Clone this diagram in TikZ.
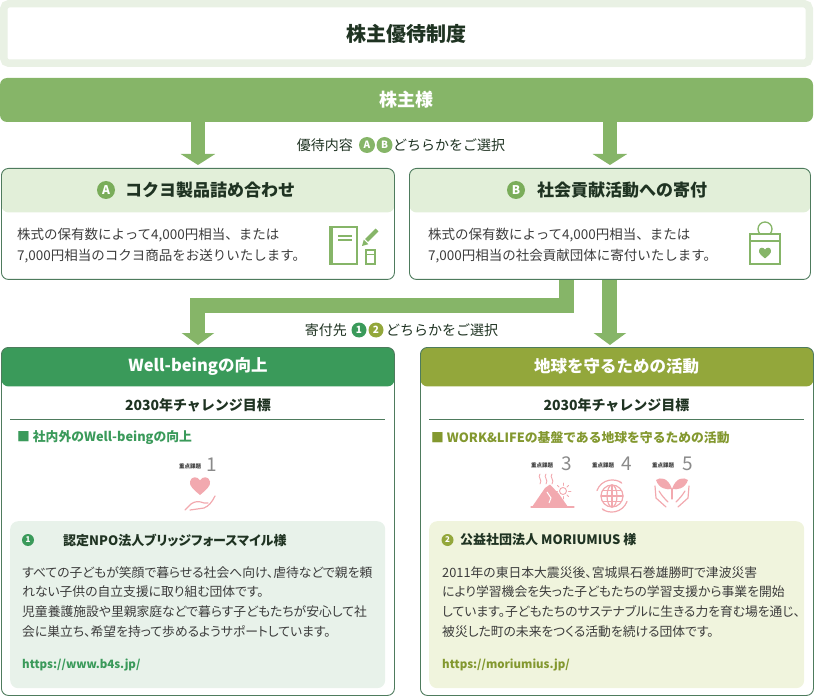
\documentclass[tikz,border=0pt]{standalone}
\usepackage{fontspec}
\setmainfont{Noto Sans CJK JP}
\newfontfamily\propfont[RawFeature=+palt]{Noto Sans CJK JP}
\usetikzlibrary{arrows.meta,positioning}

\definecolor{frameLight}{HTML}{E9F1E4}
\definecolor{leafGreen}{HTML}{86B568}
\definecolor{badgeGreen}{HTML}{7AAD5A}
\definecolor{boxLine}{HTML}{4E7B5D}
\definecolor{hdrFill}{HTML}{E2EFD9}
\definecolor{inkDark}{HTML}{1F3322}
\definecolor{txtGray}{HTML}{3C3C3C}
\definecolor{wellGreen}{HTML}{3A9A5A}
\definecolor{earthOlive}{HTML}{93A73B}
\definecolor{earthText}{HTML}{83982F}
\definecolor{wellPanel}{HTML}{E8F2EA}
\definecolor{earthPanel}{HTML}{F0F4DD}
\definecolor{iconPink}{HTML}{F2A9AF}
\definecolor{tagGray}{HTML}{8A8A8A}

\tikzset{
  titlebox/.style={draw=frameLight, line width=7.5pt, fill=white, rounded corners=5pt,
    minimum width=805.5pt, minimum height=59.5pt, text=inkDark,
    font=\fontsize{20}{24}\selectfont\bfseries},
  ownerbar/.style={fill=leafGreen, rounded corners=7pt, minimum width=813pt,
    minimum height=44pt, text=white, font=\fontsize{18}{22}\selectfont\bfseries},
  fatarrow/.style={draw=leafGreen, line width=14pt, -{Triangle[width=34pt,length=11pt]}},
  forkarrow/.style={draw=leafGreen, line width=15pt, -{Triangle[width=32pt,length=12pt]}},
  choice/.style={font=\fontsize{14}{16}\selectfont, text=inkDark, inner sep=0pt},
  badge/.style={circle, fill=#1, text=white, inner sep=0pt, minimum size=16pt,
    font=\fontsize{10}{10}\selectfont\bfseries},
  optbox/.style={draw=boxLine, line width=0.9pt, rounded corners=7pt, anchor=north west,
    minimum height=111pt,
    path picture={\fill[hdrFill] (path picture bounding box.north west) rectangle
      ([yshift=-44pt]path picture bounding box.north east);}},
  opthead/.style={font=\fontsize{17}{20}\selectfont\bfseries, text=inkDark, inner sep=0pt},
  optbody/.style={font=\fontsize{13.5}{21}\selectfont, text=txtGray, align=left,
    anchor=north west, inner sep=0pt},
  goalbox/.style={draw=boxLine, line width=0.9pt, rounded corners=7pt, anchor=north west,
    minimum width=393pt, minimum height=348pt,
    path picture={\fill[#1] (path picture bounding box.north west) rectangle
      ([yshift=-39pt]path picture bounding box.north east);}},
  goalhead/.style={font=\fontsize{16.5}{20}\selectfont\bfseries, text=white, inner sep=0pt},
  goalsub/.style={font=\fontsize{14}{17}\selectfont\bfseries, text=inkDark, inner sep=0pt},
  goalsec/.style={font=\fontsize{12.8}{15}\selectfont\bfseries, anchor=west, inner sep=0pt},
  tagtxt/.style={font=\fontsize{5.5}{6}\selectfont\bfseries, text=txtGray, inner sep=0pt},
  tagnum/.style={font=\fontsize{19}{20}\selectfont, text=tagGray, inner sep=0pt},
  panel/.style={rounded corners=8pt, anchor=north west, minimum width=375pt,
    minimum height=167pt},
  orgname/.style={font=\propfont\fontsize{13}{16}\selectfont\bfseries, text=inkDark,
    anchor=west, inner sep=0pt},
  orgbody/.style={font=\propfont\fontsize{12.8}{19.8}\selectfont, text=txtGray,
    align=left, anchor=north west, inner sep=0pt},
  orgurl/.style={font=\fontsize{11.5}{14}\selectfont\bfseries, anchor=west, inner sep=0pt},
  icon/.style={draw=leafGreen, line width=1.3pt},
  pinkline/.style={draw=iconPink, line width=1.2pt, line cap=round},
  heartpic/.pic={\fill (0,9) .. controls (-6,4) and (-11,0) .. (-10,-4.5)
    .. controls (-9,-10) and (-2,-10) .. (0,-5.5)
    .. controls (2,-10) and (9,-10) .. (10,-4.5)
    .. controls (11,0) and (6,4) .. (0,9) -- cycle;}
}

\begin{document}
\begin{tikzpicture}[x=1pt,y=-1pt]
\useasboundingbox (0,0) rectangle (815,698);

% top: title and shareholders
\node[titlebox] (title) at (406.5,33.5) {株主優待制度};
\node[ownerbar] (owner) at (406.5,100) {株主様};

% the two benefits
\node[optbox, minimum width=393pt] (boxA) at (1,168) {};
\node[optbox, minimum width=401pt] (boxB) at (409,168) {};
\draw[fatarrow] (owner.south -| boxA.north) -- ([yshift=3pt]boxA.north);
\draw[fatarrow] (owner.south -| boxB.north) -- ([yshift=3pt]boxB.north);

\node[choice, anchor=east] (pick1) at (353,145) {優待内容};
\node[badge=leafGreen] (pickA) at (367,145) {A};
\node[badge=leafGreen] (pickB) at (384.5,145) {B};
\node[choice, anchor=west] (pick1b) at (393,145) {どちらかをご選択};

\node[badge=badgeGreen, minimum size=18pt, font=\fontsize{12}{12}\selectfont\bfseries] (markA) at (106,190) {A};
\node[opthead] (headA) at (210,190) {コクヨ製品詰め合わせ};
\node[badge=badgeGreen, minimum size=18pt, font=\fontsize{12}{12}\selectfont\bfseries] (markB) at (516,190) {B};
\node[opthead] (headB) at (622,190) {社会貢献活動への寄付};

\node[optbody] (textA) at (17,228) {株式の保有数によって4,000円相当、または\\7,000円相当のコクヨ商品をお送りいたします。};
\node[optbody] (textB) at (428,228) {株式の保有数によって4,000円相当、または\\7,000円相当の社会貢献団体に寄付いたします。};

% notebook, pencil, eraser
\draw[icon] (331,227) rectangle (357,264);
\fill[leafGreen] (328.5,226.4) rectangle (333,264.6);
\draw[icon] (338,236) -- (352,236);
\draw[icon] (338,240) -- (352,240);
\draw[leafGreen, line width=4pt] (366.5,240.5) -- (377,230);
\fill[leafGreen] (362,246) -- (363.8,239.6) -- (368.4,244.2) -- cycle;
\draw[icon] (366,250) rectangle (375,264);
\draw[icon] (366,254.5) -- (375,254.5);

% donation box
\draw[icon] (765,229) circle (7);
\filldraw[icon, fill=white] (750,234) rectangle (780,264);
\draw[icon] (750,241) -- (780,241);
\pic[color=leafGreen, scale=0.6] at (765,253) {heartpic};

% the two donation targets
\node[goalbox=wellGreen] (well) at (1,347) {};
\node[goalbox=earthOlive] (earth) at (420,347) {};
\coordinate (split) at (566.5,305);
\draw[forkarrow] (boxB.south -| split) -- (split) -| ([yshift=2pt]well.north);
\draw[forkarrow] (boxB.south) -- ([yshift=2pt]boxB.south |- earth.north);

\node[choice, anchor=east] (pick2) at (347,330) {寄付先};
\node[badge=wellGreen, minimum size=15pt] (pick1c) at (359,330) {1};
\node[badge=earthOlive, minimum size=15pt] (pick2c) at (376,330) {2};
\node[choice, anchor=west] (pick2b) at (386,330) {どちらかをご選択};

\node[goalhead] (wellhead) at (198,366) {Well-beingの向上};
\node[goalhead] (earthhead) at (616.5,366) {地球を守るための活動};
\node[goalsub] (wellsub) at (198,405) {2030年チャレンジ目標};
\node[goalsub] (earthsub) at (616.5,405) {2030年チャレンジ目標};
\draw[boxLine, line width=0.9pt] (10,419) -- (385,419);
\draw[boxLine, line width=0.9pt] (429,419) -- (804,419);
\node[goalsec, text=wellGreen] (wellsec) at (17,438) {■ 社内外のWell-beingの向上};
\node[goalsec, text=earthText] (earthsec) at (431,438) {■ WORK\&LIFEの基盤である地球を守るための活動};

% key issue 1
\node[tagtxt] (tag1) at (190,466) {重点課題};
\node[tagnum] (num1) at (212,465) {1};
\pic[color=iconPink, scale=1] at (200,486) {heartpic};
\draw[pinkline] (185,510) -- (191,504) .. controls (195,501) and (199,501) .. (204,503) -- (208,503);
\draw[pinkline] (190,510) -- (204,508) .. controls (209,506) and (212,502) .. (215,496);

% key issues 3, 4, 5
\node[tagtxt] (tag3) at (542,465) {重点課題};
\node[tagnum] (num3) at (567,464) {3};
\node[tagtxt] (tag4) at (603,465) {重点課題};
\node[tagnum] (num4) at (627,464) {4};
\node[tagtxt] (tag5) at (663,465) {重点課題};
\node[tagnum] (num5) at (688,464) {5};

\foreach \hx in {540,546,552}
  \draw[pinkline, line width=0.9pt] (\hx,474) .. controls (\hx-3,477) and (\hx+3,480) .. (\hx,484);
\fill[iconPink] (532,507) -- (545,488) -- (550,484.5) -- (559,494) -- (568,507) -- cycle;
\draw[white, line width=1pt] (547,492) -- (551,498) -- (549,503);
\draw[pinkline] (531,507) -- (574,507);
\draw[pinkline, line width=0.9pt] (563,491) circle (3.5);
\foreach \a in {0,45,...,315}
  \draw[pinkline, line width=0.9pt] (563,491) ++(\a:5.5) -- +(\a:2.5);

\draw[pinkline] (612,496) circle (11);
\draw[pinkline] (612,496) ellipse (5 and 11);
\draw[pinkline] (601,496) -- (623,496);
\draw[pinkline] (602.5,490.5) -- (621.5,490.5);
\draw[pinkline] (602.5,501.5) -- (621.5,501.5);
\draw[pinkline] (612,485) -- (612,507);
\draw[pinkline, -{Stealth[length=3pt]}] (597.0,490.5) arc[start angle=200, end angle=310, radius=16];
\draw[pinkline, -{Stealth[length=3pt]}] (627.0,501.5) arc[start angle=20, end angle=130, radius=16];

\fill[iconPink] (672,489) .. controls (668,477) and (660,477) .. (656,480) .. controls (659,489) and (667,490) .. (672,489);
\fill[iconPink] (672,489) .. controls (676,477) and (684,477) .. (688,480) .. controls (685,489) and (677,490) .. (672,489);
\draw[pinkline] (672,489) -- (672,499);
\draw[pinkline] (655,486) -- (656,498) -- (666,507);
\draw[pinkline] (659,491) .. controls (662,496) and (665,499) .. (668,502);
\draw[pinkline] (689,486) -- (688,498) -- (678,507);
\draw[pinkline] (685,491) .. controls (682,496) and (679,499) .. (676,502);

% organisations
\node[panel, fill=wellPanel] (wellpanel) at (10,521) {};
\node[panel, fill=earthPanel] (earthpanel) at (429,521) {};

\node[badge=wellGreen, minimum size=12pt, font=\fontsize{8}{8}\selectfont\bfseries] (org1) at (28,540) {1};
\node[orgname] (orgname1) at (63,540) {認定NPO法人ブリッジフォースマイル様};
\node[badge=earthOlive, minimum size=12pt, font=\fontsize{8}{8}\selectfont\bfseries] (org2) at (447.5,540) {2};
\node[orgname] (orgname2) at (460,540) {公益社団法人 MORIUMIUS 様};

\node[orgbody] (orgtext1) at (22,566) {すべての子どもが笑顔で暮らせる社会へ向け、虐待などで親を頼\\れない子供の自立支援に取り組む団体です。\\児童養護施設や里親家庭などで暮らす子どもたちが安心して社\\会に巣立ち、希望を持って歩めるようサポートしています。};
\node[orgbody] (orgtext2) at (442,566) {2011年の東日本大震災後、宮城県石巻雄勝町で津波災害\\により学習機会を失った子どもたちの学習支援から事業を開始\\しています。子どもたちのサステナブルに生きる力を育む場を通じ、\\被災した町の未来をつくる活動を続ける団体です。};

\node[orgurl, text=wellGreen] (url1) at (22,665) {https://www.b4s.jp/};
\node[orgurl, text=earthText] (url2) at (442,665) {https://moriumius.jp/};
\end{tikzpicture}
\end{document}
